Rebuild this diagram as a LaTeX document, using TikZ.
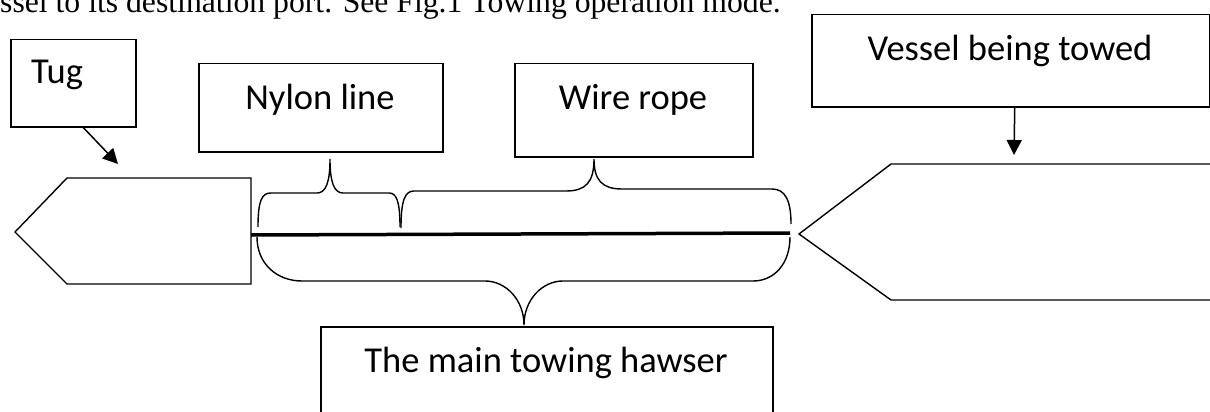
\documentclass[tikz,border=0pt]{standalone}
\usepackage{fontspec}
\setmainfont{Carlito}
\newfontfamily\bodyfont{Liberation Serif}
\usetikzlibrary{arrows.meta}

\tikzset{
  box/.style={draw, line width=1.5pt, inner sep=0pt, anchor=north west},
  lbl/.style={font=\fontsize{36.5}{40}\selectfont, inner sep=0pt, anchor=base},
  hull/.style={draw, line width=1.4pt, line join=miter},
  brace/.style={draw, line width=1.4pt},
  hawser/.style={line width=3.5pt},
  pointer/.style={line width=1.5pt, -{Triangle[length=15pt,width=15pt]}},
}

\begin{document}
\begin{tikzpicture}[x=1pt, y=-1pt]
  \useasboundingbox (0,0) rectangle (1210,412);

  % running text of the page above the figure
  \node[font=\bodyfont\fontsize{31.7}{34}\selectfont, inner sep=0pt, anchor=base west]
    (para) at (0,12.5) {ssel to its destination port. See Fig.1 Towing operation mode.};

  % label boxes
  \node[box, minimum width=125pt, minimum height=87pt] (tug) at (10,39) {};
  \node[lbl, anchor=base west] (tugtxt) at (31,83) {Tug};

  \node[box, minimum width=244pt, minimum height=88pt] (nylon) at (198,63) {};
  \node[lbl] (nylontxt) at (320,109) {Nylon line};

  \node[box, minimum width=238pt, minimum height=93pt] (wire) at (514,63) {};
  \node[lbl] (wiretxt) at (633,110) {Wire rope};

  \node[box, minimum width=398pt, minimum height=92pt] (vessel) at (811,14) {};
  \node[lbl] (vesseltxt) at (1010,61) {Vessel being towed};

  \node[box, minimum width=452pt, minimum height=110pt] (main) at (320,326) {};
  \node[lbl] (maintxt) at (546,372) {The main towing hawser};

  % tug hull
  \draw[hull] (67,178) -- (251,178) -- (251,284) -- (67,284) -- (15,232) -- cycle;

  % towed vessel hull
  \draw[hull] (1220,164) -- (891,164) -- (799,234) -- (891,300) -- (1220,300);

  % towing hawser
  \coordinate (hawA) at (251,235);
  \coordinate (hawB) at (790,233);
  \draw[hawser] (hawA) -- (hawB);

  % pointers
  \coordinate (tugtip) at (118,164);
  \coordinate (vesseltip) at (1014,155);
  \draw[pointer] ([xshift=10pt]tug.south) -- (tugtip);
  \draw[pointer] ([xshift=4pt]vessel.south) -- (vesseltip);

  % brace over the nylon line
  \draw[brace] (258,227) .. controls (258,200) and (262,193) .. (271,193)
    -- (317,193) .. controls (326,193) and (330,182) .. (330,159)
    .. controls (330,182) and (334,193) .. (343,193)
    -- (389,193) .. controls (396,193) and (400,200) .. (400,227);

  % brace over the wire rope
  \draw[brace] (401,228) .. controls (401,200) and (405,191) .. (414,191)
    -- (566,191) .. controls (586,191) and (594,182) .. (594,159)
    .. controls (594,180) and (602,189) .. (622,189)
    -- (772,189) .. controls (785,189) and (791,200) .. (791,224);

  % brace under the whole hawser
  \draw[brace] (257,237) .. controls (257,264) and (277,281) .. (302,281)
    -- (485,281) .. controls (506,281) and (524,300) .. (524,325)
    .. controls (524,300) and (542,281) .. (563,281)
    -- (753,281) .. controls (774,281) and (790,264) .. (790,237);
\end{tikzpicture}
\end{document}
